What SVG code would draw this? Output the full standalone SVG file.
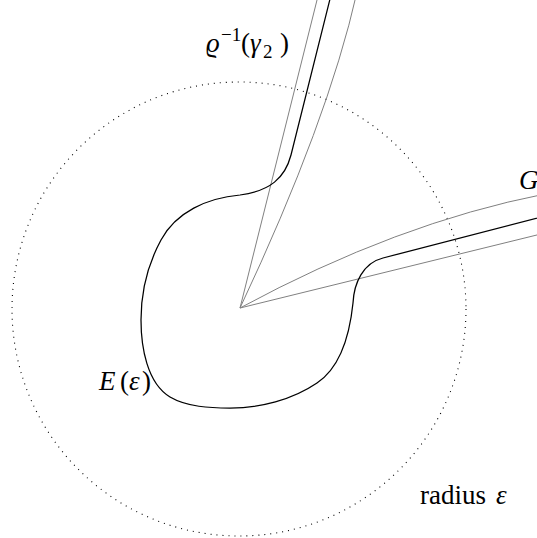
<svg xmlns="http://www.w3.org/2000/svg" width="537" height="538" viewBox="0 0 537 538">
<style>
.lbl{font-family:"Liberation Serif","DejaVu Serif",serif;font-size:27px;fill:#000}
.it{font-style:italic}
.sm{font-size:19px}
.gray{fill:none;stroke:#808080;stroke-width:1}
.blk{fill:none;stroke:#000;stroke-width:1.25;stroke-linejoin:round}
.dot{fill:none;stroke:#000;stroke-width:1.1;stroke-dasharray:1 5}
</style>
<rect width="537" height="538" fill="#fff"/>
<g id="circle">
<circle class="dot" cx="239" cy="309" r="227"/>
</g>
<g id="connectors">
<path class="gray" d="M240,308 L318,-4"/>
<path class="gray" d="M240,308 Q328,121 357,-8"/>
<path class="gray" d="M240,308 Q397,223 545,194"/>
<path class="gray" d="M240,308 L545,233"/>
</g>
<g id="E">
<path class="blk" d="M331,-5 L291,155 C285,178 270,191 240,195 C207,198 176,212 161,240 C148,264 141,292 141,320 C141,347 147,383 170,397 C187,407 210,408 230,408 C260,408 292,400 317,383 C341,367 350,332 353,303 C354,283 363,263 383,258 L545,216"/>
</g>
<g id="labels">
<text class="lbl" y="52"><tspan class="it" x="206">ϱ</tspan><tspan class="sm" x="221" y="41">−1</tspan><tspan x="241" y="52">(</tspan><tspan class="it" x="250">γ</tspan><tspan class="sm" x="263" y="58">2</tspan><tspan x="280" y="52">)</tspan></text>
<text class="lbl" y="390"><tspan class="it" x="99">E</tspan><tspan x="120">(</tspan><tspan class="it" x="129">ε</tspan><tspan x="142">)</tspan></text>
<text class="lbl" x="420" y="504">radius <tspan class="it" x="496">ε</tspan></text>
<text class="lbl it" x="519" y="189">G</text>
</g>
</svg>
